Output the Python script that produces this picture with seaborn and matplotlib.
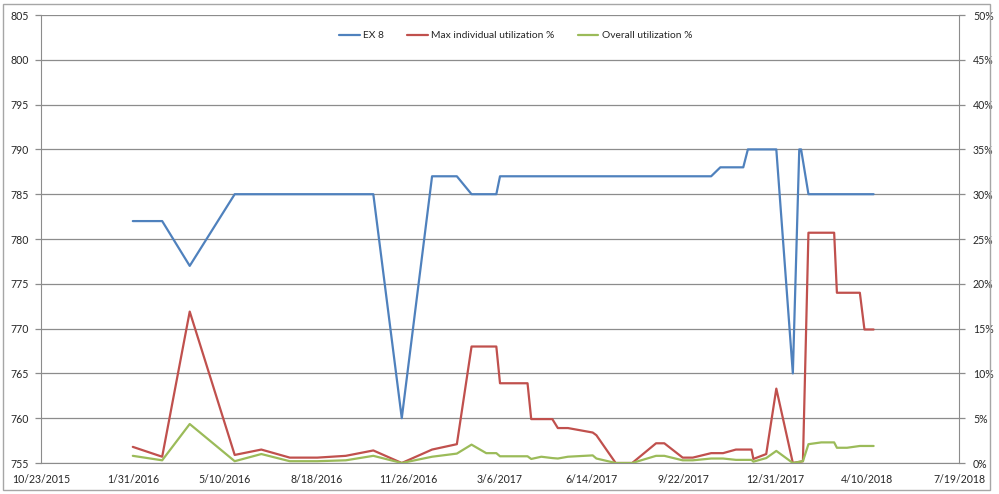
import pandas as pd
import numpy as np
import matplotlib
matplotlib.use("Agg")
import matplotlib.pyplot as plt
from matplotlib.ticker import PercentFormatter, MultipleLocator
from matplotlib.patches import Rectangle
import seaborn as sns

# --- data ---
ex8_dates = ["2016-01-31", "2016-03-03", "2016-04-02", "2016-05-21", "2016-10-19",
             "2016-11-19", "2016-12-22", "2017-01-18", "2017-02-03", "2017-03-02",
             "2017-03-06", "2017-10-22", "2017-11-01", "2017-11-26", "2017-12-01",
             "2018-01-01", "2018-01-19", "2018-01-26", "2018-01-28", "2018-02-05",
             "2018-04-17"]
ex8_values = [782, 782, 777, 785, 785,
              760, 787, 787, 785, 785,
              787, 787, 788, 788, 790,
              790, 765, 790, 790, 785,
              785]

util_dates = ["2016-01-31", "2016-03-03", "2016-04-02", "2016-05-21", "2016-06-19",
              "2016-07-20", "2016-08-19", "2016-09-19", "2016-10-19", "2016-11-19",
              "2016-12-22", "2017-01-18", "2017-02-03", "2017-02-19", "2017-03-02",
              "2017-03-06", "2017-04-05", "2017-04-09", "2017-04-20", "2017-05-02",
              "2017-05-08", "2017-05-19", "2017-06-15", "2017-06-19", "2017-07-10",
              "2017-07-28", "2017-08-23", "2017-09-01", "2017-09-21", "2017-10-02",
              "2017-10-22", "2017-11-04", "2017-11-18", "2017-12-05", "2017-12-07",
              "2017-12-21", "2018-01-01", "2018-01-19", "2018-01-30", "2018-02-05",
              "2018-02-19", "2018-03-05", "2018-03-08", "2018-03-19", "2018-04-02",
              "2018-04-07", "2018-04-17"]
max_util_pct = [1.8, 0.7, 16.9, 0.9, 1.5,
                0.6, 0.6, 0.8, 1.4, 0.0,
                1.5, 2.1, 13.0, 13.0, 13.0,
                8.9, 8.9, 4.9, 4.9, 4.9,
                3.9, 3.9, 3.4, 3.1, 0.0,
                0.0, 2.2, 2.2, 0.6, 0.6,
                1.1, 1.1, 1.5, 1.5, 0.45,
                1.0, 8.3, 0.0, 0.2, 25.7,
                25.7, 25.7, 19.0, 19.0, 19.0,
                14.9, 14.9]
overall_util_pct = [0.8, 0.3, 4.35, 0.2, 1.0,
                    0.2, 0.2, 0.3, 0.8, 0.0,
                    0.7, 1.05, 2.05, 1.1, 1.1,
                    0.75, 0.75, 0.45, 0.7, 0.55,
                    0.5, 0.7, 0.85, 0.5, 0.0,
                    0.0, 0.8, 0.8, 0.3, 0.3,
                    0.5, 0.5, 0.35, 0.35, 0.15,
                    0.55, 1.35, 0.0, 0.2, 2.1,
                    2.3, 2.3, 1.7, 1.7, 1.9,
                    1.9, 1.9]

ex8 = pd.DataFrame({"date": pd.to_datetime(ex8_dates), "value": ex8_values})
util = pd.DataFrame({"date": pd.to_datetime(util_dates),
                     "max": np.array(max_util_pct) / 100,
                     "overall": np.array(overall_util_pct) / 100})

BLUE = "#4F81BD"
RED = "#C0504D"
GREEN = "#9BBB59"
GRID = "#8C8C8C"
TEXT = "#262626"

sns.set_style("white")
plt.rcParams["font.family"] = ["Lato", "DejaVu Sans"]

fig = plt.figure(figsize=(9.99, 4.94), dpi=100)
W, H = 999, 494
ax = fig.add_axes([41 / W, (H - 463) / H, (959 - 41) / W, (463 - 15) / H])
ax2 = ax.twinx()

# chart area border
fig.patches.append(Rectangle((3 / W, 4 / H), (990 - 3) / W, (490 - 4) / H,
                             transform=fig.transFigure, fill=False,
                             edgecolor="#A6A6A6", lw=1.0))

sns.lineplot(data=ex8, x="date", y="value", ax=ax, color=BLUE, lw=1.6, label="EX 8", legend=False)
sns.lineplot(data=util, x="date", y="max", ax=ax2, color=RED, lw=1.6,
             label="Max individual utilization %", legend=False)
sns.lineplot(data=util, x="date", y="overall", ax=ax2, color=GREEN, lw=1.6,
             label="Overall utilization %", legend=False)

start = pd.Timestamp("2015-10-23")
ticks = pd.date_range(start, periods=11, freq="100D")
ax.set_xlim(ticks[0], ticks[-1])
ax.set_xticks(ticks)
ax.set_xticklabels([f"{d.month}/{d.day}/{d.year}" for d in ticks])

ax.set_ylim(755, 805)
ax.yaxis.set_major_locator(MultipleLocator(5))
ax2.set_ylim(0, 0.5)
ax2.yaxis.set_major_locator(MultipleLocator(0.05))
ax2.yaxis.set_major_formatter(PercentFormatter(1.0, decimals=0))

ax.grid(axis="y", color=GRID, lw=0.9)
ax.set_axisbelow(True)
for a in (ax, ax2):
    a.set_xlabel("")
    a.set_ylabel("")
    a.spines["top"].set_visible(False)
    a.spines["left"].set_color(GRID)
    a.spines["bottom"].set_color(GRID)
    a.spines["right"].set_color(GRID)
    a.tick_params(colors=GRID, labelcolor=TEXT, labelsize=7.6, length=4, width=0.9, direction="out")
ax2.spines["left"].set_visible(False)
ax2.spines["bottom"].set_visible(False)
ax.spines["right"].set_visible(False)
ax.tick_params(axis="x", pad=4)
ax.tick_params(axis="y", pad=5)
ax2.tick_params(axis="y", pad=6)

h1, l1 = ax.get_legend_handles_labels()
h2, l2 = ax2.get_legend_handles_labels()
ax.legend(h1 + h2, l1 + l2, loc="upper center", bbox_to_anchor=(0.517, 0.985), ncol=3,
          frameon=False, fontsize=7.4, handlelength=2.0, columnspacing=2.3, handletextpad=0.3,
          labelcolor=TEXT)

fig.savefig("out.png", dpi=100)
